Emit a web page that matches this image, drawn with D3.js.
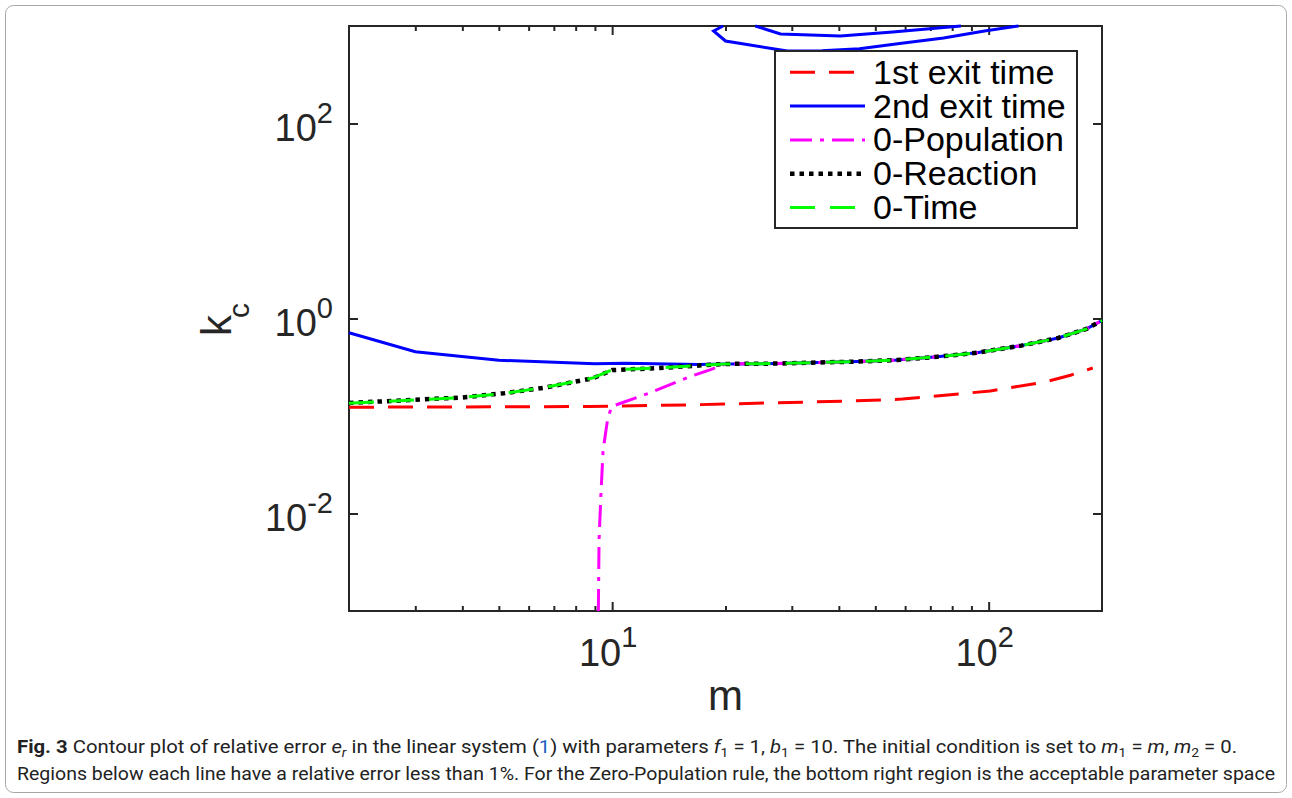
<!DOCTYPE html>
<html lang="en">
<head>
    <meta charset="UTF-8">
    <title>Fig. 3 contour plot</title>
    <script src="https://d3js.org/d3.v7.min.js"></script>
    <style>
        body {
            margin: 0;
            background: #fff;
        }
        svg {
            display: block;
        }
        .tick-label, .axis-label, .legend text {
            font-family: "Liberation Sans", Arial, sans-serif;
            fill: #262626;
        }
        .legend text {
            fill: #000;
        }
        .caption {
            font-family: Roboto, "Open Sans", sans-serif;
            font-size: 19px;
            fill: #222;
        }
        .axis path, .axis line {
            stroke: #262626;
            stroke-width: 2px;
        }
    </style>
</head>
<body>
    <svg width="1292" height="798"></svg>
    <script>
        // contour lines, as [m, k_c] pairs
        const firstExit = [[2, 0.123], [8.7, 0.125], [16, 0.130], [42.7, 0.1425], [59, 0.149],
            [101, 0.1805], [110, 0.191], [141, 0.223], [165, 0.262], [189, 0.311]];
        const secondExit = [[2, 0.715], [3, 0.456], [5, 0.373], [9, 0.344], [10.8, 0.347], [17, 0.338],
            [20, 0.342], [27.5, 0.345], [45, 0.362], [57, 0.375], [73, 0.405], [93, 0.445],
            [122, 0.527], [153, 0.631], [182, 0.784], [200, 0.954]];
        const secondExitTopOuter = [[19.7, 1000], [18.6, 889], [20, 702], [29.2, 554], [36, 556], [45.4, 583],
            [58, 662], [75.9, 753], [97.5, 889], [120, 1000]];
        const secondExitTopInner = [[24, 1000], [28, 828], [40.4, 789], [55.6, 867], [84.4, 1000]];
        const zeroPopulation = [[9.19, 0.001], [9.23, 0.00535], [9.33, 0.0149], [9.46, 0.0448], [9.72, 0.091],
            [9.96, 0.125], [12.5, 0.171], [16, 0.251], [18.1, 0.296], [20, 0.342], [27.5, 0.345],
            [45, 0.362], [57, 0.375], [73, 0.405], [93, 0.445], [122, 0.527], [153, 0.631], [182, 0.784], [200, 0.954]];
        const zeroReaction = [[2, 0.136], [2.92, 0.146], [4, 0.155], [5.16, 0.171], [6.6, 0.195], [8.4, 0.234],
            [8.9, 0.244], [10, 0.296], [13.1, 0.309], [16.7, 0.328], [20, 0.342], [27.5, 0.345],
            [45, 0.362], [57, 0.375], [73, 0.405], [93, 0.445], [122, 0.527], [153, 0.631], [182, 0.784], [200, 0.954]];
        const zeroTime = [[2, 0.135], [3, 0.146], [4, 0.155], [5.2, 0.171], [6.6, 0.196], [8.4, 0.235],
            [8.9, 0.246], [10, 0.297], [13.1, 0.31], [16.7, 0.329], [20, 0.342], [27.5, 0.345],
            [45, 0.362], [57, 0.375], [73, 0.405], [93, 0.445], [122, 0.527], [153, 0.631], [182, 0.784], [200, 0.954]];

        const legendLabels = ["1st exit time", "2nd exit time", "0-Population", "0-Reaction", "0-Time"];
        const xMajorTicks = [10, 100];
        const xMinorTicks = [3, 4, 5, 6, 7, 8, 9, 20, 30, 40, 50, 60, 70, 80, 90];
        const yMajorTicks = [1e-2, 1, 1e2];

        const svg = d3.select("svg");
        const plotL = 349, plotR = 1102, plotT = 26, plotB = 611;

        const x = d3.scaleLog().domain([2, 200]).range([plotL, plotR]);
        const y = d3.scaleLog().domain([1e-3, 1e3]).range([plotB, plotT]);

        // figure frame
        svg.append("rect")
            .attr("x", 5.5).attr("y", 5.5)
            .attr("width", 1281).attr("height", 787)
            .attr("rx", 8)
            .attr("fill", "#fff")
            .attr("stroke", "#a8a8a8")
            .attr("stroke-width", 1);

        // axes, ticks point inward on all four sides
        const axes = [
            [d3.axisBottom(x).tickValues(xMajorTicks).tickSize(-9), `translate(0,${plotB})`],
            [d3.axisBottom(x).tickValues(xMinorTicks).tickSize(-5), `translate(0,${plotB})`],
            [d3.axisTop(x).tickValues(xMajorTicks).tickSize(-9), `translate(0,${plotT})`],
            [d3.axisTop(x).tickValues(xMinorTicks).tickSize(-5), `translate(0,${plotT})`],
            [d3.axisLeft(y).tickValues(yMajorTicks).tickSize(-9), `translate(${plotL},0)`],
            [d3.axisRight(y).tickValues(yMajorTicks).tickSize(-9), `translate(${plotR},0)`]
        ];
        axes.forEach(([ax, tr]) => {
            const g = svg.append("g").attr("class", "axis").attr("transform", tr)
                .call(ax.tickSizeOuter(0).tickFormat(""));
            g.select(".domain").remove();
        });

        svg.append("rect")
            .attr("x", plotL).attr("y", plotT)
            .attr("width", plotR - plotL).attr("height", plotB - plotT)
            .attr("fill", "none")
            .attr("stroke", "#262626")
            .attr("stroke-width", 2);

        // tick labels 10^n
        xMajorTicks.forEach(v => {
            const t = svg.append("text").attr("class", "tick-label")
                .attr("x", x(v) - 4).attr("y", plotB + 55)
                .attr("text-anchor", "middle");
            t.append("tspan").style("font-size", "38px").text("10");
            t.append("tspan").style("font-size", "29px").attr("dy", -19).text(Math.round(Math.log10(v)));
        });
        yMajorTicks.forEach(v => {
            const t = svg.append("text").attr("class", "tick-label")
                .attr("x", plotL - 16).attr("y", y(v) + 17)
                .attr("text-anchor", "end");
            t.append("tspan").style("font-size", "38px").text("10");
            t.append("tspan").style("font-size", "29px").attr("dy", -18).text(Math.round(Math.log10(v)));
        });

        // axis labels
        svg.append("text").attr("class", "axis-label")
            .attr("x", (plotL + plotR) / 2).attr("y", 710)
            .attr("text-anchor", "middle")
            .style("font-size", "42px")
            .text("m");
        const yl = svg.append("text").attr("class", "axis-label")
            .attr("transform", "translate(231,336) rotate(-90)")
            .style("font-size", "42px");
        yl.append("tspan").text("k");
        yl.append("tspan").attr("dx", -3).attr("dy", 18).style("font-size", "30px").text("c");

        // contour lines
        const line = d3.line().x(d => x(d[0])).y(d => y(d[1]));
        const series = [
            { data: [firstExit], color: "#ff0000", dash: "25 14", width: 3 },
            { data: [secondExit, secondExitTopOuter, secondExitTopInner], color: "#0000ff", dash: null, width: 3 },
            { data: [zeroPopulation], color: "#ff00ff", dash: "22 8 4 8", width: 3 },
            { data: [zeroReaction], color: "#000000", dash: "4.5 5", width: 4.5 },
            { data: [zeroTime], color: "#00ff00", dash: "25 15", width: 3 }
        ];
        series.forEach(s => {
            s.data.forEach(pts => {
                svg.append("path")
                    .attr("d", line(pts))
                    .attr("fill", "none")
                    .attr("stroke", s.color)
                    .attr("stroke-width", s.width)
                    .attr("stroke-dasharray", s.dash);
            });
        });

        // legend
        const legend = svg.append("g").attr("class", "legend");
        legend.append("rect")
            .attr("x", 775).attr("y", 51)
            .attr("width", 302).attr("height", 177)
            .attr("fill", "#fff")
            .attr("stroke", "#262626")
            .attr("stroke-width", 2);
        legendLabels.forEach((label, i) => {
            const s = series[i];
            const cy = 72.3 + i * 33.8;
            legend.append("line")
                .attr("x1", 790).attr("x2", 865)
                .attr("y1", cy).attr("y2", cy)
                .attr("stroke", s.color)
                .attr("stroke-width", s.width)
                .attr("stroke-dasharray", s.dash);
            legend.append("text")
                .attr("x", 873).attr("y", cy + 11.5)
                .style("font-size", "34px")
                .text(label);
        });

        // caption
        const c1 = svg.append("text").attr("class", "caption")
            .attr("x", 17).attr("y", 753)
            .attr("textLength", 1220).attr("lengthAdjust", "spacingAndGlyphs");
        c1.append("tspan").style("font-weight", "bold").text("Fig. 3");
        c1.append("tspan").text(" Contour plot of relative error ");
        c1.append("tspan").style("font-style", "italic").text("e");
        c1.append("tspan").style("font-style", "italic").style("font-size", "13px").attr("dy", 4).text("r");
        c1.append("tspan").attr("dy", -4).text(" in the linear system (");
        c1.append("tspan").style("fill", "#1b5fbf").text("1");
        c1.append("tspan").text(") with parameters ");
        c1.append("tspan").style("font-style", "italic").text("f");
        c1.append("tspan").style("font-size", "13px").attr("dy", 4).text("1");
        c1.append("tspan").attr("dy", -4).text(" = 1, ");
        c1.append("tspan").style("font-style", "italic").text("b");
        c1.append("tspan").style("font-size", "13px").attr("dy", 4).text("1");
        c1.append("tspan").attr("dy", -4).text(" = 10. The initial condition is set to ");
        c1.append("tspan").style("font-style", "italic").text("m");
        c1.append("tspan").style("font-size", "13px").attr("dy", 4).text("1");
        c1.append("tspan").attr("dy", -4).text(" = ");
        c1.append("tspan").style("font-style", "italic").text("m");
        c1.append("tspan").text(", ");
        c1.append("tspan").style("font-style", "italic").text("m");
        c1.append("tspan").style("font-size", "13px").attr("dy", 4).text("2");
        c1.append("tspan").attr("dy", -4).text(" = 0.");

        svg.append("text").attr("class", "caption")
            .attr("x", 17).attr("y", 780)
            .attr("textLength", 1258).attr("lengthAdjust", "spacingAndGlyphs")
            .text("Regions below each line have a relative error less than 1%. For the Zero-Population rule, the bottom right region is the acceptable parameter space");
    </script>
</body>
</html>
